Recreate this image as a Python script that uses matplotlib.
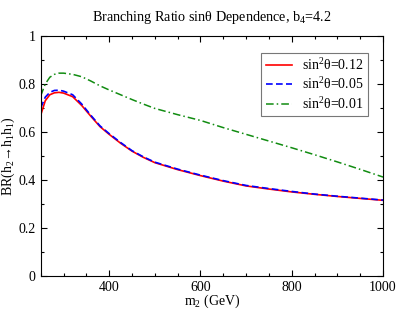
import numpy as np
import matplotlib
matplotlib.use('Agg')
import matplotlib.pyplot as plt
from matplotlib.ticker import MultipleLocator

plt.rcParams['font.family'] = ['Liberation Serif', 'DejaVu Serif']
plt.rcParams['mathtext.fontset'] = 'custom'
plt.rcParams['mathtext.rm'] = 'Liberation Serif'
plt.rcParams['mathtext.it'] = 'Liberation Serif:italic'

# Masses (GeV)
m2 = [250, 260, 270, 280, 290, 300, 320, 340, 360, 380, 400, 425, 450, 475,
      500, 550, 600, 650, 700, 750, 800, 850, 900, 950, 1000]

# sin^2(theta) = 0.12
br_012 = [0.67, 0.73, 0.755, 0.763, 0.765, 0.762, 0.747, 0.71, 0.665, 0.622,
          0.59, 0.553, 0.52, 0.494, 0.472, 0.443, 0.418, 0.395, 0.375, 0.362,
          0.35, 0.34, 0.331, 0.323, 0.315]
# sin^2(theta) = 0.05
br_005 = [0.70, 0.745, 0.765, 0.773, 0.774, 0.77, 0.755, 0.716, 0.669, 0.625,
          0.593, 0.556, 0.522, 0.496, 0.474, 0.445, 0.42, 0.397, 0.377, 0.364,
          0.352, 0.341, 0.332, 0.324, 0.316]
# sin^2(theta) = 0.01
br_001 = [0.75, 0.80, 0.828, 0.84, 0.845, 0.845, 0.84, 0.83, 0.812, 0.792,
          0.775, 0.755, 0.735, 0.716, 0.698, 0.672, 0.648, 0.618, 0.59, 0.562,
          0.534, 0.505, 0.475, 0.444, 0.412]

fig = plt.figure(figsize=(3.99, 3.10), dpi=100)
ax = fig.add_axes([0.102, 0.11, 0.858, 0.774])

ax.plot(m2, br_012, color='#ff0000', lw=1.2, label=r'sin$^2$θ=0.12')
ax.plot(m2, br_005, color='#0000ff', lw=1.2, ls=(0, (4, 2)), label=r'sin$^2$θ=0.05')
ax.plot(m2, br_001, color='#118c11', lw=1.1, ls=(0, (5, 2, 1, 2)), label=r'sin$^2$θ=0.01')

ax.set_xlim(250, 1000)
ax.set_ylim(0, 1)
ax.xaxis.set_major_locator(MultipleLocator(200))
ax.xaxis.set_minor_locator(MultipleLocator(50))
ax.yaxis.set_minor_locator(MultipleLocator(0.1))
ax.set_yticks([0, 0.2, 0.4, 0.6, 0.8, 1.0])
ax.set_yticklabels(['0', '0.2', '0.4', '0.6', '0.8', '1'])
ax.tick_params(which='both', direction='in', top=True, right=True, labelsize=10, width=0.8)
ax.tick_params(which='major', length=4)
ax.tick_params(which='minor', length=2.5)
for s in ax.spines.values():
    s.set_linewidth(0.8)

ax.set_xlabel(r'm$_2$ (GeV)', fontsize=10, labelpad=-1)
ax.set_ylabel(r'BR(h$_2$→h$_1$h$_1$)', fontsize=10, labelpad=1)
ax.set_title(r'Branching Ratio sinθ Dependence, b$_4$=4.2', fontsize=10.2, pad=11)

leg = ax.legend(loc='upper right', bbox_to_anchor=(0.955, 0.93), borderaxespad=0,
                fontsize=10, fancybox=False, framealpha=1, edgecolor='#777777',
                handlelength=1.9, borderpad=0.3, labelspacing=0.25, handletextpad=0.7)
leg.get_frame().set_linewidth(0.8)

fig.savefig('out.png', dpi=100)
